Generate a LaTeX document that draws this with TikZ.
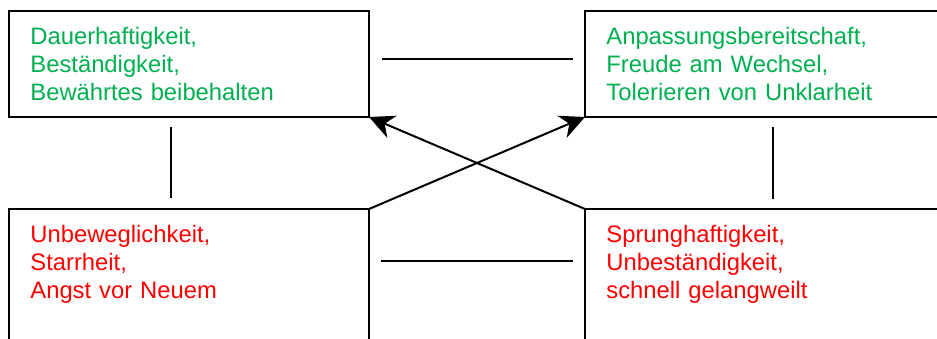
\documentclass[tikz,border=0pt]{standalone}
\usepackage{fontspec}
\setmainfont{Liberation Sans}
\usetikzlibrary{arrows.meta}
\definecolor{gruen}{RGB}{0,176,80}
\definecolor{rot}{RGB}{255,0,0}
\tikzset{
  feld/.style={draw, line width=1pt, minimum width=180pt, minimum height=#1,
    inner sep=0pt, outer sep=0pt, anchor=north west},
  eintrag/.style={anchor=base west, inner sep=0pt, text width=170pt, align=left,
    font=\fontsize{11.9pt}{14.15pt}\selectfont},
}
\begin{document}
\begin{tikzpicture}[x=0.5pt, y=-0.5pt]
  \useasboundingbox (0,0) rectangle (937,338);
  \clip (0,0) rectangle (937,338);
  \node[feld=53pt] (dauer) at (9,11) {};
  \node[feld=53pt] (anpass) at (585,11) {};
  \node[feld=70pt] (starr) at (9,209) {};
  \node[feld=70pt] (sprung) at (585,209) {};
  \node[eintrag, text=gruen] (dauertext) at ([shift={(21,33)}]dauer.north west)
    {Dauerhaftigkeit,\\Beständigkeit,\\Bewährtes beibehalten};
  \node[eintrag, text=gruen] (anpasstext) at ([shift={(21,33)}]anpass.north west)
    {Anpassungsbereitschaft,\\Freude am Wechsel,\\Tolerieren von Unklarheit};
  \node[eintrag, text=rot] (starrtext) at ([shift={(21,33)}]starr.north west)
    {Unbeweglichkeit,\\Starrheit,\\Angst vor Neuem};
  \node[eintrag, text=rot] (sprungtext) at ([shift={(21,33)}]sprung.north west)
    {Sprunghaftigkeit,\\Unbeständigkeit,\\schnell gelangweilt};
  \begin{scope}[line width=1pt]
    \draw ([shift={(13,-5)}]dauer.east) -- ([shift={(-12,-5)}]anpass.west);
    \draw ([shift={(12,52)}]starr.north east) -- ([shift={(-12,52)}]sprung.north west);
    \draw ([shift={(-18,10)}]dauer.south) -- ([shift={(-18,-11)}]starr.north);
    \draw ([shift={(8,10)}]anpass.south) -- ([shift={(8,-10)}]sprung.north);
  \end{scope}
  \begin{scope}[line width=1pt, -{Stealth[length=12.5pt, width=12pt, inset=4pt]}]
    \draw (starr.north east) -- (anpass.south west);
    \draw (sprung.north west) -- (dauer.south east);
  \end{scope}
\end{tikzpicture}
\end{document}
